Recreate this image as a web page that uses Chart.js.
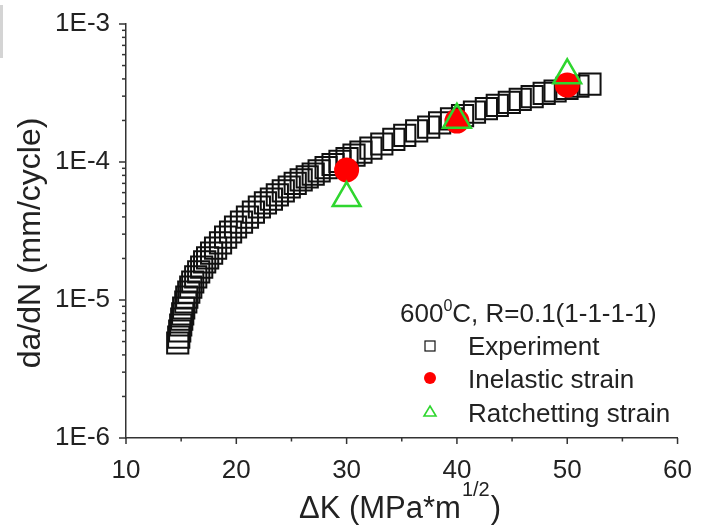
<!DOCTYPE html>
<html>
<head>
<meta charset="utf-8">
<script src="https://cdn.jsdelivr.net/npm/chart.js@4.4.1/dist/chart.umd.min.js"></script>
<style>
  html, body { margin: 0; padding: 0; background: #fff; }
  #wrap { position: relative; width: 701px; height: 531px; }
  #edge { position: absolute; left: 0; top: 5px; width: 3px; height: 53px; background: #d4d4d4; }
</style>
</head>
<body>
<div id="wrap">
  <canvas id="c" width="701" height="531"></canvas>
  <div id="edge"></div>
</div>
<script>
'use strict';

// ── Data ──
const expK = [
  14.69, 14.78, 14.87, 14.96, 15.05, 15.14, 15.23, 15.42, 15.51, 15.69,
  15.87, 16.05, 16.32, 16.59, 16.86, 17.13, 17.40, 17.76, 18.12, 18.57,
  19.03, 19.48, 19.93, 20.47, 21.01, 21.55, 22.09, 22.64, 23.18, 23.72,
  24.26, 24.80, 25.34, 25.88, 26.43, 26.97, 27.51, 28.14, 28.77, 29.40,
  30.04, 30.67, 31.30, 32.20, 33.19, 34.28, 35.27, 36.35, 37.44, 38.43,
  39.51, 40.51, 41.59, 42.67, 43.66, 44.75, 45.74, 46.82, 47.91, 48.90,
  49.98, 50.97, 52.06
];
const expRate = [
  4.88e-6, 5.39e-6, 5.96e-6, 6.59e-6, 7.28e-6, 7.92e-6, 8.75e-6, 9.67e-6, 1.05e-5, 1.14e-5,
  1.24e-5, 1.35e-5, 1.47e-5, 1.60e-5, 1.73e-5, 1.89e-5, 2.02e-5, 2.19e-5, 2.38e-5, 2.59e-5,
  2.86e-5, 3.11e-5, 3.38e-5, 3.67e-5, 3.99e-5, 4.34e-5, 4.72e-5, 5.05e-5, 5.39e-5, 5.77e-5,
  6.17e-5, 6.59e-5, 6.99e-5, 7.41e-5, 7.79e-5, 8.18e-5, 8.61e-5, 9.12e-5, 9.59e-5, 1.01e-4,
  1.06e-4, 1.12e-4, 1.18e-4, 1.26e-4, 1.35e-4, 1.46e-4, 1.56e-4, 1.68e-4, 1.79e-4, 1.92e-4,
  2.05e-4, 2.17e-4, 2.30e-4, 2.44e-4, 2.57e-4, 2.70e-4, 2.84e-4, 2.98e-4, 3.14e-4, 3.27e-4,
  3.41e-4, 3.55e-4, 3.67e-4
];
const simK          = [30, 40, 50];
const inelasticRate = [8.75e-5, 1.98e-4, 3.61e-4];
const ratchetRate   = [5.48e-5, 2.02e-4, 4.25e-4];

const xMajor = [10, 20, 30, 40, 50, 60];
const xMinor = [15, 25, 35, 45, 55];
const yDecades = [1e-6, 1e-5, 1e-4, 1e-3];

const legendTitle = ['600', '0', 'C, R=0.1(1-1-1-1)'];
const legendLabels = ['Experiment', 'Inelastic strain', 'Ratchetting strain'];

const FONT = "'Liberation Sans', Arial, sans-serif";
const INK = '#222';
const GREEN = '#2fd62f';
const RED = '#ff0000';

const pts = (xs, ys) => xs.map((x, i) => ({ x, y: ys[i] }));

// ── axes, titles and legend drawn on top ──
const decor = {
  id: 'decor',
  afterDraw(chart) {
    const { ctx, scales: { x, y }, chartArea: a } = chart;
    ctx.save();
    ctx.strokeStyle = '#333';
    ctx.lineWidth = 1.5;
    const seg = (x1, y1, x2, y2) => { ctx.beginPath(); ctx.moveTo(x1, y1); ctx.lineTo(x2, y2); ctx.stroke(); };

    xMajor.forEach(v => { const p = x.getPixelForValue(v); seg(p, a.bottom, p, a.bottom + 6); });
    xMinor.forEach(v => { const p = x.getPixelForValue(v); seg(p, a.bottom, p, a.bottom + 3.5); });
    yDecades.forEach(d => {
      const p = y.getPixelForValue(d); seg(a.left, p, a.left - 7, p);
      if (d < 1e-3) {
        for (let m = 2; m <= 9; m++) {
          const q = y.getPixelForValue(d * m); seg(a.left, q, a.left - 4, q);
        }
      }
    });

    ctx.fillStyle = INK;
    // y title
    ctx.save();
    ctx.translate(31, 243);
    ctx.rotate(-Math.PI / 2);
    ctx.font = '32px ' + FONT;
    ctx.textAlign = 'center';
    ctx.textBaseline = 'middle';
    ctx.fillText('da/dN (mm/cycle)', 0, 0);
    ctx.restore();

    // x title with superscript
    ctx.textBaseline = 'alphabetic';
    ctx.textAlign = 'left';
    const main = 'ΔK (MPa*m', sup = '1/2', close = ')';
    ctx.font = '31px ' + FONT; const w1 = ctx.measureText(main).width, w3 = ctx.measureText(close).width;
    ctx.font = '20px ' + FONT; const w2 = ctx.measureText(sup).width;
    let tx = 400 - (w1 + w2 + 2 + w3) / 2;
    ctx.font = '31px ' + FONT; ctx.fillText(main, tx, 518); tx += w1 + 1;
    ctx.font = '20px ' + FONT; ctx.fillText(sup, tx, 496); tx += w2 + 1;
    ctx.font = '31px ' + FONT; ctx.fillText(close, tx, 518);

    // legend title
    let lx = 400;
    ctx.font = '26px ' + FONT; ctx.fillText(legendTitle[0], lx, 322); lx += ctx.measureText(legendTitle[0]).width;
    ctx.font = '16px ' + FONT; ctx.fillText(legendTitle[1], lx, 311); lx += ctx.measureText(legendTitle[1]).width;
    ctx.font = '26px ' + FONT; ctx.fillText(legendTitle[2], lx, 322);

    // legend rows
    const rows = [355, 388, 422];
    legendLabels.forEach((t, i) => ctx.fillText(t, 468, rows[i]));

    ctx.lineWidth = 1.2;
    ctx.strokeStyle = '#111';
    ctx.strokeRect(425, 341, 10, 10);
    ctx.fillStyle = RED;
    ctx.beginPath(); ctx.arc(430, 378, 6, 0, Math.PI * 2); ctx.fill();
    ctx.strokeStyle = GREEN; ctx.lineWidth = 1.6;
    ctx.beginPath(); ctx.moveTo(430, 406); ctx.lineTo(436, 416); ctx.lineTo(424, 416); ctx.closePath(); ctx.stroke();
    ctx.restore();
  }
};

new Chart(document.getElementById('c'), {
  type: 'scatter',
  data: {
    datasets: [
      {
        label: 'Ratchetting strain',
        data: pts(simK, ratchetRate),
        pointStyle: 'triangle',
        pointRadius: 16,
        borderColor: GREEN,
        backgroundColor: 'rgba(0,0,0,0)',
        borderWidth: 2.5,
        order: 0,
      },
      {
        label: 'Inelastic strain',
        data: pts(simK, inelasticRate),
        pointStyle: 'circle',
        pointRadius: 12.5,
        borderColor: RED,
        backgroundColor: RED,
        borderWidth: 0,
        order: 1,
      },
      {
        label: 'Experiment',
        data: pts(expK, expRate),
        pointStyle: 'rect',
        pointRadius: 15,
        borderColor: '#111',
        backgroundColor: 'rgba(0,0,0,0)',
        borderWidth: 2,
        order: 2,
      },
    ],
  },
  options: {
    responsive: false,
    animation: false,
    devicePixelRatio: 1,
    layout: { padding: { left: 0, right: 21, top: 24, bottom: 0 } },
    plugins: { legend: { display: false }, tooltip: { enabled: false } },
    scales: {
      x: {
        type: 'linear',
        min: 10,
        max: 60,
        afterFit: s => { s.height = 93; },
        grid: { display: false },
        border: { color: '#333', width: 1.5 },
        ticks: { stepSize: 10, color: INK, padding: 9, font: { family: FONT, size: 26 } },
      },
      y: {
        type: 'logarithmic',
        min: 1e-6,
        max: 1e-3,
        afterFit: s => { s.width = 126; },
        grid: { display: false },
        border: { color: '#333', width: 1.5 },
        ticks: {
          autoSkip: false,
          color: INK,
          padding: 8,
          font: { family: FONT, size: 26 },
          callback: v => {
            const e = Math.log10(v);
            return Math.abs(e - Math.round(e)) < 1e-6 ? '1E' + Math.round(e) : '';
          },
        },
      },
    },
  },
  plugins: [decor],
});
</script>
</body>
</html>
